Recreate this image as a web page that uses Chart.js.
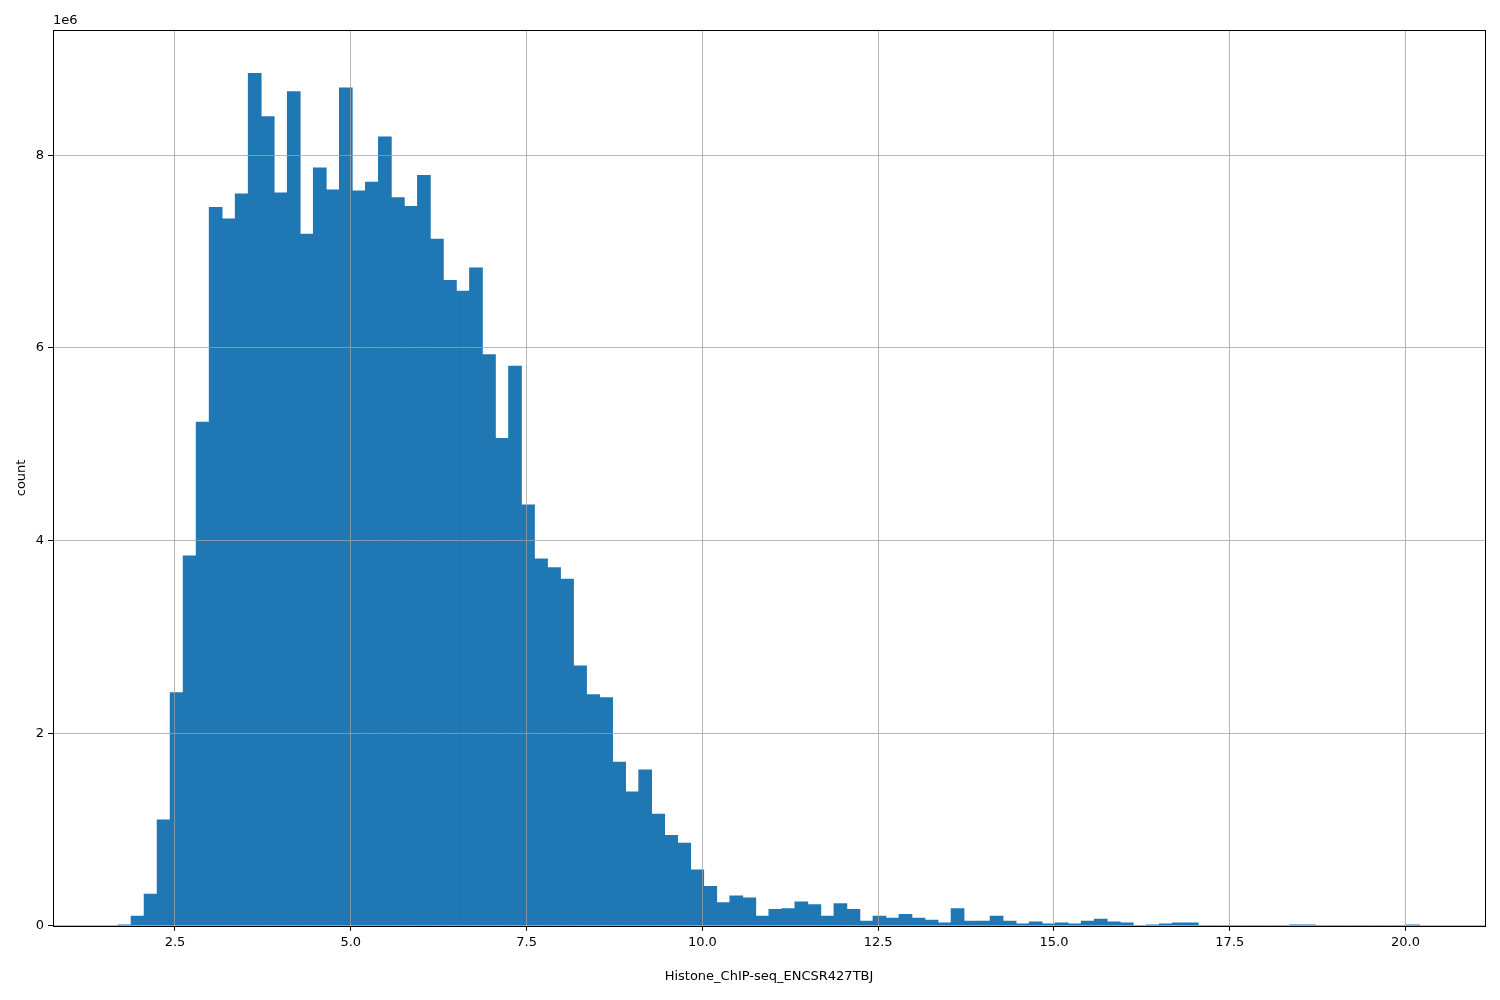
<!DOCTYPE html>
<html><head><meta charset="utf-8">
<script src="https://cdn.jsdelivr.net/npm/chart.js@4"></script>
<style>html,body{margin:0;padding:0;background:#fff}#w{width:1500px;height:1000px}</style>
</head><body><div id="w"><canvas id="c" width="1500" height="1000"></canvas></div>
<script>
const binStart = 1.69;
const binWidth = 0.1851;
const countsMillions = [0.01,0.1,0.33,1.1,2.42,3.84,5.23,7.46,7.34,7.6,
8.85,8.4,7.61,8.66,7.18,7.87,7.64,8.7,7.63,7.72,
8.19,7.56,7.47,7.79,7.13,6.7,6.59,6.83,5.93,5.06,
5.81,4.37,3.81,3.72,3.6,2.7,2.4,2.37,1.7,1.39,
1.62,1.16,0.94,0.86,0.58,0.41,0.24,0.31,0.29,0.1,
0.17,0.18,0.25,0.22,0.1,0.23,0.17,0.05,0.1,0.08,
0.12,0.08,0.06,0.03,0.18,0.05,0.05,0.1,0.05,0.02,
0.04,0.02,0.03,0.02,0.05,0.07,0.04,0.03,0,0.01,
0.02,0.03,0.03,0,0,0,0,0,0,0,
0.01,0.01,0,0,0,0,0,0,0,0.01];
const xTicks = [2.5,5.0,7.5,10.0,12.5,15.0,17.5,20.0];
const yTicks = [0,2e6,4e6,6e6,8e6];
const data = countsMillions.map((v,i)=>({x: binStart + (i+0.5)*binWidth, y: v*1e6}));
const frame = {id:'frame', afterDraw(ch){const a=ch.chartArea,c=ch.ctx;c.save();c.strokeStyle='#000';c.lineWidth=1;c.strokeRect(Math.round(a.left)+0.5,Math.round(a.top)+0.5,Math.round(a.right-a.left),Math.round(a.bottom-a.top));
c.fillStyle='#000';c.font='13px "DejaVu Sans"';c.textBaseline='bottom';c.fillText('1e6',a.left,a.top-3);c.restore();}};
new Chart(document.getElementById('c'),{
 type:'bar',
 data:{datasets:[{data, backgroundColor:'#1f77b4', borderWidth:0, barPercentage:1, categoryPercentage:1}]},
 options:{responsive:false,animation:false,
  layout:{padding:{top:30,right:15,left:10,bottom:12}},
  plugins:{legend:{display:false},tooltip:{enabled:false}},
  scales:{
   x:{type:'linear',min:0.765,max:21.13,offset:false,
     afterBuildTicks(s){s.ticks=xTicks.map(v=>({value:v}));},
     ticks:{color:'#000',font:{family:'DejaVu Sans',size:13},callback:v=>v.toFixed(1),maxRotation:0,padding:4},
     grid:{offset:false,color:'rgba(160,160,160,0.75)',z:1,tickLength:5,tickColor:'#000'},
     border:{display:false},
     title:{display:true,text:'Histone_ChIP-seq_ENCSR427TBJ',color:'#000',font:{family:'DejaVu Sans',size:13},padding:{top:14}}},
   y:{min:0,max:9.3e6,
     afterBuildTicks(s){s.ticks=yTicks.map(v=>({value:v}));},
     afterFit(s){s.width=43;},
     ticks:{color:'#000',font:{family:'DejaVu Sans',size:13},callback:v=>String(v/1e6),padding:4},
     grid:{color:'rgba(160,160,160,0.75)',z:1,tickLength:5,tickColor:'#000'},
     border:{display:false},
     title:{display:true,text:'count',color:'#000',font:{family:'DejaVu Sans',size:13},padding:{bottom:6}}}
  }},
 plugins:[frame]});
</script></body></html>
